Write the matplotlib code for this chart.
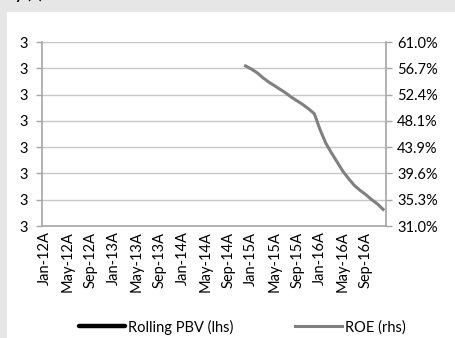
import numpy as np
import matplotlib
matplotlib.use("Agg")
import matplotlib.pyplot as plt
from matplotlib.patches import Rectangle

plt.rcParams['font.family'] = ['Lato', 'DejaVu Sans']
plt.rcParams['font.size'] = 10.5

# monthly categories Jan-12 .. Dec-16
months = ['Jan', 'Feb', 'Mar', 'Apr', 'May', 'Jun', 'Jul', 'Aug', 'Sep', 'Oct', 'Nov', 'Dec']
years = ['12', '13', '14', '15', '16']
categories = [m + '-' + y + 'A' for y in years for m in months]

# Rolling PBV (lhs) - nothing shown in the chart
pbv = [np.nan] * len(categories)

# ROE (rhs), % - starts Dec-14
roe_start = 'Dec-14A'
roe_values = [57.1, 56.6, 56.0, 55.2, 54.5, 53.9, 53.3, 52.7, 52.0, 51.4,
              50.8, 50.1, 49.3, 46.7, 44.5, 42.9, 41.4, 39.9, 38.7, 37.6,
              36.8, 36.1, 35.3, 34.6, 33.7]

rhs_ticks = [31.0, 35.3, 39.6, 43.9, 48.1, 52.4, 56.7, 61.0]

x = np.arange(len(categories))
roe = [np.nan] * len(categories)
i0 = categories.index(roe_start)
for k, v in enumerate(roe_values):
    roe[i0 + k] = v

fig = plt.figure(figsize=(4.55, 3.38), dpi=100)
fig.patch.set_facecolor('#e6e6e6')
fig.patches.append(Rectangle((7 / 455, 0), 1, 1 - 12 / 338, transform=fig.transFigure,
                             facecolor='white', edgecolor='none', zorder=-5))
fig.text(15 / 455, 1 + 1.5 / 338, 'y (x)', fontsize=11, fontweight='bold', va='baseline')

ax = fig.add_axes([42 / 455, 1 - 226 / 338, 344 / 455, 184 / 338])
ax2 = ax.twinx()
ax.patch.set_visible(False)
ax2.patch.set_visible(False)

axis_col = '#a6a6a6'
grid_col = '#c8c8c8'

l1, = ax.plot(x, pbv, color='black', lw=3.2, solid_capstyle='round', label='Rolling PBV (lhs)')
l2, = ax2.plot(x, roe, color='#808080', lw=2.2, label='ROE (rhs)')

ax.set_xlim(-0.5, len(categories) - 0.5)
ax.set_ylim(2.65, 3.35)
ax.set_yticks(np.linspace(2.65, 3.35, 8))
ax.set_yticklabels(['3'] * 8)
ax.yaxis.grid(True, color=grid_col, lw=1)
ax.set_axisbelow(True)

ax2.set_ylim(31.0, 61.0)
ax2.set_yticks(np.linspace(31.0, 61.0, 8))
ax2.set_yticklabels(['%.1f%%' % t for t in rhs_ticks])

tick_idx = list(range(0, len(categories), 4))
ax.set_xticks(tick_idx)
ax.set_xticklabels([categories[i] for i in tick_idx], rotation=90)

for a in (ax, ax2):
    for s in a.spines.values():
        s.set_visible(False)
    a.tick_params(colors=axis_col, labelcolor='black', labelsize=10.5, length=4, width=1)
ax.spines['left'].set_visible(True)
ax.spines['bottom'].set_visible(True)
ax2.spines['right'].set_visible(True)
for s in (ax.spines['left'], ax.spines['bottom'], ax2.spines['right']):
    s.set_color(axis_col)
    s.set_linewidth(1.2)
ax.tick_params(axis='x', length=0, pad=4)
ax.tick_params(axis='y', pad=6)
ax2.tick_params(axis='y', pad=4)

fig.legend([l1, l2], ['Rolling PBV (lhs)', 'ROE (rhs)'], loc='center',
           bbox_to_anchor=(242 / 455, 1 - 327 / 338), ncol=2, frameon=False,
           handlelength=3.2, handletextpad=0.2, columnspacing=4.2, fontsize=10.5)

fig.savefig('out.png', dpi=100, facecolor=fig.get_facecolor())
